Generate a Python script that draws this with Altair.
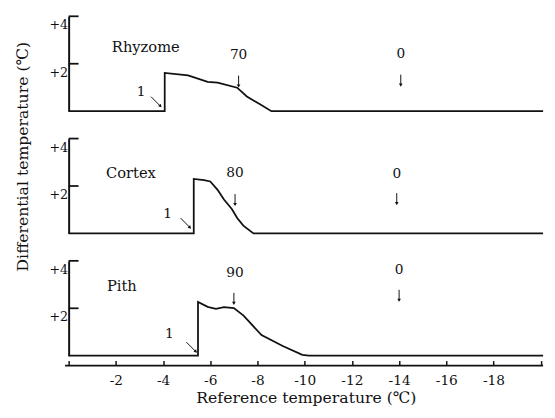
import altair as alt
import pandas as pd

FONT = "DejaVu Serif"
X_DOMAIN = [0, -20.1]
W, H = 485, 97
INK = "#111"

# ---- curves (reference temperature, differential temperature) ----
rhyzome_x = [0, -4.07, -4.07, -5.06, -5.89, -6.31, -7.14, -7.55, -8.09, -8.59, -20.1]
rhyzome_y = [0, 0, 1.61, 1.51, 1.24, 1.20, 0.99, 0.62, 0.30, 0, 0]
cortex_x = [0, -5.30, -5.30, -5.74, -6.00, -6.31, -6.58, -6.92, -7.14, -7.40, -7.83, -20.1]
cortex_y = [0, 0, 2.30, 2.25, 2.19, 1.84, 1.43, 1.02, 0.65, 0.33, 0, 0]
pith_x = [0, -5.48, -5.48, -5.89, -6.24, -6.58, -7.00, -7.41, -8.17, -9.07, -9.90, -10.18, -20.1]
pith_y = [0, 0, 2.27, 2.06, 1.98, 2.05, 2.01, 1.69, 0.87, 0.41, 0.04, 0, 0]

# ---- annotations per panel: Rhyzome, Cortex, Pith ----
panel_names = ["Rhyzome", "Cortex", "Pith"]
name_x = [-1.83, -1.58, -1.62]
name_y = [2.72, 2.56, 2.93]
pct_text = ["70", "80", "90"]
pct_x = [-7.20, -7.05, -7.05]
pct_y = [2.35, 2.56, 3.50]
pct_arrow_x = [-7.20, -7.05, -7.00]
pct_arrow_y = [1.28, 1.44, 2.43]
zero_text = ["0", "0", "0"]
zero_x = [-14.07, -13.90, -14.00]
zero_y = [2.39, 2.52, 3.63]
zero_arrow_y = [1.32, 1.48, 2.56]
one_text = ["1", "1", "1"]
one_x = [-3.07, -4.19, -4.27]
one_y = [0.82, 0.82, 0.91]
diag_x = [-3.69, -4.94, -5.19]
diag_y = [0.41, 0.45, 0.37]

# ---- axes ----
ytick_values = [2, 4]
xtick_values = [0, -1, -2, -3, -4, -5, -6, -7, -8, -9, -10,
                -11, -12, -13, -14, -15, -16, -17, -18, -19, -20]
xaxis_span = [0.15, -20.1]

curves = [(rhyzome_x, rhyzome_y), (cortex_x, cortex_y), (pith_x, pith_y)]

xscale = alt.Scale(domain=X_DOMAIN, nice=False, zero=False)
yscale = alt.Scale(domain=[0, 4], nice=False, zero=False)

HALF_V = 0.22   # half length of vertical arrows (y units)
HALF_D = 0.2    # half length of diagonal arrows


def XQ(f):
    return alt.X(f, scale=xscale)


def YQ(f):
    return alt.Y(f, scale=yscale)


def panel(i):
    cx, cy = curves[i]
    df = pd.DataFrame({"x": cx, "y": cy})
    bottom = i == 2
    if bottom:
        xaxis = alt.Axis(
            values=xtick_values, offset=5, domain=False, tickSize=5,
            tickWidth=1.5, tickColor=INK, grid=False,
            labelExpr="datum.value % 2 == 0 && datum.value < 0 && datum.value > -20 ? '-' + abs(datum.value) : ''",
            labelFont=FONT, labelFontSize=14, labelColor=INK,
            labelPadding=8, labelFlush=False,
            title="Reference temperature (\u2103)", titleFont=FONT,
            titleFontSize=16, titleFontWeight="normal", titleColor=INK,
            titlePadding=3,
        )
    else:
        xaxis = None
    yaxis_kw = dict(
        values=ytick_values, tickSize=0, domainWidth=2, domainColor=INK,
        grid=False, labelExpr="'+' + datum.value", labelFont=FONT,
        labelFontSize=13, labelColor=INK, labelPadding=1,
        labelBaseline="middle", labelOffset=9, labelFlush=False,
    )
    if i == 1:
        yaxis = alt.Axis(
            title="Differential temperature (\u2103)", titleFont=FONT,
            titleFontSize=16, titleFontWeight="normal", titleColor=INK,
            titleX=-47, titleY=18, titleAngle=-90, titleBaseline="middle",
            titleAlign="center", **yaxis_kw)
    else:
        yaxis = alt.Axis(title=None, **yaxis_kw)

    line = alt.Chart(df).mark_line(color=INK, strokeWidth=1.8).encode(
        x=alt.X("x:Q", scale=xscale, axis=xaxis),
        y=alt.Y("y:Q", scale=yscale, axis=yaxis),
    )
    ticks = alt.Chart(pd.DataFrame({"x0": [0, 0], "x1": [-0.42, -0.42], "v": ytick_values})).mark_rule(
        color=INK, strokeWidth=1.8).encode(x=XQ("x0:Q"), x2="x1:Q", y=YQ("v:Q"))

    names = alt.Chart(pd.DataFrame({"x": [name_x[i]], "y": [name_y[i]], "t": [panel_names[i]]})).mark_text(
        font=FONT, fontSize=15, align="left", baseline="middle", color=INK).encode(
        x=XQ("x:Q"), y=YQ("y:Q"), text="t:N")
    nums = alt.Chart(pd.DataFrame({
        "x": [pct_x[i], zero_x[i], one_x[i]],
        "y": [pct_y[i], zero_y[i], one_y[i]],
        "t": [pct_text[i], zero_text[i], one_text[i]],
    })).mark_text(font=FONT, fontSize=14, align="center", baseline="middle", color=INK).encode(
        x=XQ("x:Q"), y=YQ("y:Q"), text="t:N")

    # vertical arrows (shaft + head)
    va = pd.DataFrame({
        "x": [pct_arrow_x[i], zero_x[i]],
        "y": [pct_arrow_y[i], zero_arrow_y[i]],
    })
    va["y0"] = va["y"] + HALF_V
    va["y1"] = va["y"] - HALF_V
    vshaft = alt.Chart(va).mark_rule(color=INK, strokeWidth=1).encode(
        x=XQ("x:Q"), y=YQ("y0:Q"), y2="y1:Q")
    vhead = alt.Chart(va).mark_point(shape="triangle-down", filled=True, size=14,
                                     color=INK, opacity=1).encode(
        x=XQ("x:Q"), y=YQ("y1:Q"))

    # diagonal arrow (down-right)
    da = pd.DataFrame({"x": [diag_x[i]], "y": [diag_y[i]]})
    da["x0"] = da["x"] + HALF_D
    da["x1"] = da["x"] - HALF_D
    da["y0"] = da["y"] + HALF_D
    da["y1"] = da["y"] - HALF_D
    dshaft = alt.Chart(da).mark_rule(color=INK, strokeWidth=1).encode(
        x=XQ("x0:Q"), x2="x1:Q", y=YQ("y0:Q"), y2="y1:Q")
    dhead = alt.Chart(da).mark_point(shape="triangle-down", filled=True, size=14,
                                     angle=315, color=INK, opacity=1).encode(
        x=XQ("x1:Q"), y=YQ("y1:Q"))

    layers = [line, ticks, names, nums, vshaft, vhead, dshaft, dhead]
    if bottom:
        axline = alt.Chart(pd.DataFrame({"x0": [xaxis_span[0]], "x1": [xaxis_span[1]]})).mark_rule(
            color=INK, strokeWidth=1.8).encode(
            x=XQ("x0:Q"), x2="x1:Q", y=alt.value(H + 10))
        layers.append(axline)
    return alt.layer(*layers).properties(width=W, height=H)


chart = alt.vconcat(panel(0), panel(1), panel(2), spacing=28, bounds="flush").properties(
    padding={"left": 6, "top": 3, "right": 0, "bottom": 0},
    background="white",
).configure_view(stroke=None)

chart.save("out.html", embed_options={"renderer": "svg", "actions": False})
